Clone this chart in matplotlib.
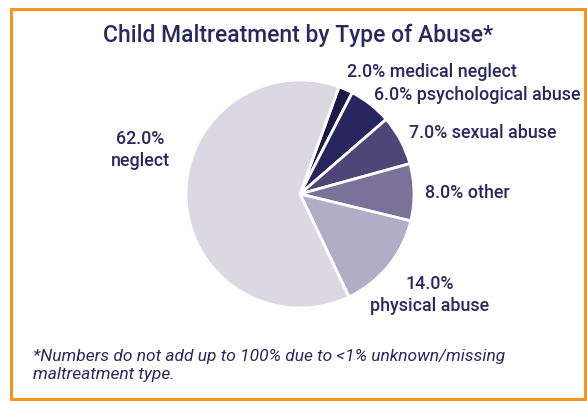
import matplotlib.pyplot as plt
from matplotlib.patches import Rectangle

# data
types = ["medical neglect", "psychological abuse", "sexual abuse", "other", "physical abuse", "neglect"]
percents = [2.0, 6.0, 7.0, 8.0, 14.0, 62.0]
colors = ["#1c1949", "#28265f", "#4e4676", "#7a7299", "#b1adc7", "#dbd8e3"]

navy = "#2a2860"
W, H = 587, 401

fig = plt.figure(figsize=(W / 100, H / 100), dpi=100)
ax = fig.add_axes([0, 0, 1, 1])
ax.set_xlim(0, W)
ax.set_ylim(0, H)
ax.axis("off")

def py(y):
    # pixel row (from top) -> data y
    return H - y

ax.add_patch(Rectangle((11, py(399)), 574, 390, fill=False, edgecolor="#f7941d", linewidth=2.2))

ax.pie(percents, colors=colors, startangle=70, counterclock=False,
       center=(300, py(194)), radius=114,
       wedgeprops=dict(edgecolor="white", linewidth=2))
ax.set_xlim(0, W)
ax.set_ylim(0, H)
ax.set_aspect("auto")

font = "Roboto"
ax.text(298, py(35), "Child Maltreatment by Type of Abuse*", ha="center", va="center",
        fontsize=16.5, color=navy, family=font, fontweight="medium")

lab = dict(fontsize=12.9, color=navy, family=font, fontweight="medium")
ax.text(347, py(72), f"{percents[0]:.1f}% {types[0]}", ha="left", va="center", **lab)
ax.text(374, py(95), f"{percents[1]:.1f}% {types[1]}", ha="left", va="center", **lab)
ax.text(409, py(133), f"{percents[2]:.1f}% {types[2]}", ha="left", va="center", **lab)
ax.text(425, py(193), f"{percents[3]:.1f}% {types[3]}", ha="left", va="center", **lab)
ax.text(430, py(295), f"{percents[4]:.1f}%\n{types[4]}", ha="center", va="center",
        linespacing=1.3, **lab)
ax.text(140, py(150), f"{percents[5]:.1f}%\n{types[5]}", ha="center", va="center",
        linespacing=1.3, **lab)

ax.text(33, py(365), "*Numbers do not add up to 100% due to <1% unknown/missing\nmaltreatment type.",
        ha="left", va="center", fontsize=12.5, color=navy, family=font, style="italic",
        linespacing=1.25)

fig.savefig("out.png", dpi=100)
